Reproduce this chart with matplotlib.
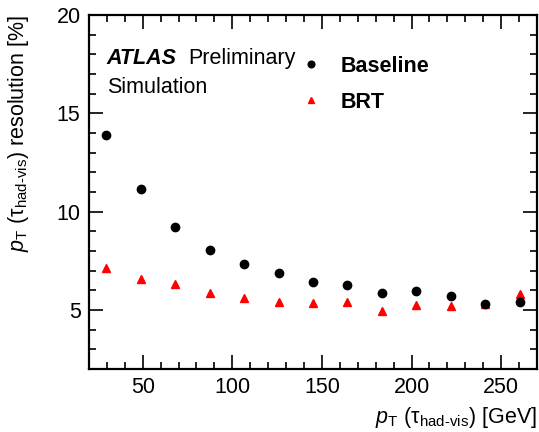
import matplotlib
matplotlib.use("Agg")
import matplotlib.pyplot as plt
from matplotlib.ticker import MultipleLocator

plt.rcParams["font.family"] = ["Liberation Sans", "DejaVu Sans"]
plt.rcParams["mathtext.fontset"] = "custom"
plt.rcParams["mathtext.rm"] = "Liberation Sans"
plt.rcParams["mathtext.it"] = "Liberation Sans:italic"
plt.rcParams["mathtext.bf"] = "Liberation Sans:bold"

# bin centres of tau pT [GeV]
pt = [29.6, 48.8, 68.1, 87.3, 106.5, 125.8, 145.0, 164.2, 183.5, 202.7, 221.9, 241.2, 260.4]
# resolution [%]
baseline = [13.89, 11.13, 9.21, 8.04, 7.33, 6.89, 6.44, 6.27, 5.88, 5.95, 5.73, 5.30, 5.41]
brt = [7.15, 6.55, 6.32, 5.84, 5.61, 5.41, 5.37, 5.39, 4.95, 5.27, 5.19, 5.29, 5.79]

fig = plt.figure(figsize=(5.39, 4.32), dpi=100)
ax = fig.add_axes([0.165, 0.146, 0.8313, 0.819])

ax.plot(pt, baseline, "o", color="black", markersize=6, label="Baseline", zorder=3)
ax.plot(pt, brt, "^", color="red", markersize=6, label="BRT", zorder=2)

ax.set_xlim(20, 270)
ax.set_ylim(2, 20)
ax.xaxis.set_major_locator(MultipleLocator(50))
ax.xaxis.set_minor_locator(MultipleLocator(10))
ax.yaxis.set_major_locator(MultipleLocator(5))
ax.yaxis.set_minor_locator(MultipleLocator(1))
ax.tick_params(which="both", direction="in", top=True, right=True, labelsize=15.5, width=1.2)
ax.tick_params(which="major", length=10, pad=6)
ax.tick_params(which="minor", length=5)
for s in ax.spines.values():
    s.set_linewidth(1.6)

ax.set_xlabel(r"$p_{\mathrm{T}}$ $(\mathrm{\tau}_{\mathrm{had\text{-}vis}})$ [GeV]", fontsize=15.5, ha="right", x=1.0, labelpad=5)
ax.set_ylabel(r"$p_{\mathrm{T}}$ $(\mathrm{\tau}_{\mathrm{had\text{-}vis}})$ resolution [%]", fontsize=15.5, ha="right", y=1.0, labelpad=18)

ax.text(0.04, 0.862, "ATLAS", transform=ax.transAxes, fontsize=15.5, fontweight="bold", fontstyle="italic")
ax.text(0.222, 0.862, "Preliminary", transform=ax.transAxes, fontsize=15.5)
ax.text(0.04, 0.78, "Simulation", transform=ax.transAxes, fontsize=15.5)

leg = ax.legend(loc="upper left", bbox_to_anchor=(0.424, 0.94), frameon=False,
                prop={"size": 15.5, "weight": "bold"}, handlelength=1.2,
                handletextpad=0.75, labelspacing=0.7, markerscale=0.8)

fig.savefig("out.png", dpi=100)
